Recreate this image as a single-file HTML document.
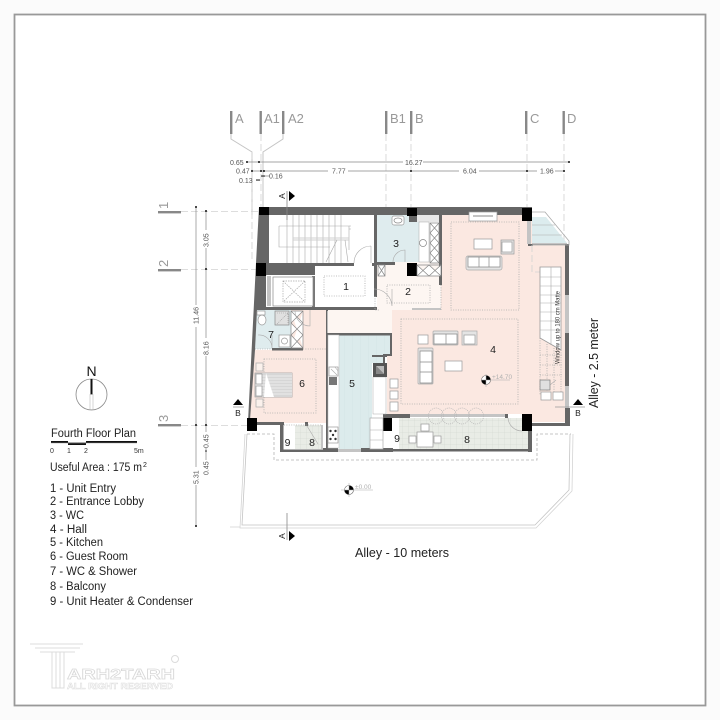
<!DOCTYPE html>
<html><head><meta charset="utf-8"><title>Fourth Floor Plan</title>
<style>
html,body{margin:0;padding:0;background:#fff}
svg{display:block}
text{font-family:"Liberation Sans",sans-serif}
.dim{font-size:7px;fill:#555}
.rm{font-size:10.5px;fill:#222;text-anchor:middle}
.ax{font-size:13px;fill:#999}
.lg{font-size:11.5px;fill:#222}
.f{fill:#fff;stroke:#999;stroke-width:.7}
.d{fill:none;stroke:#aaa;stroke-width:.8;stroke-dasharray:1 1.4}
.g{fill:none;stroke:#d2d2d2;stroke-width:.8;stroke-dasharray:7 3}
.s{fill:none;stroke:#aaa;stroke-width:.6}
.w{fill:#666}
.k{fill:#000}
.dl{stroke:#888;stroke-width:.7}
</style></head><body>
<svg xmlns="http://www.w3.org/2000/svg" width="720" height="720" viewBox="0 0 720 720">
<defs>
<pattern id="gb" width="6" height="6" patternUnits="userSpaceOnUse"><rect width="6" height="6" fill="#e9ece6"/><path d="M0 0V6M0 0H6" stroke="#cfd3cc" stroke-width=".5"/></pattern>
<pattern id="kb" width="8" height="8" patternUnits="userSpaceOnUse"><rect width="8" height="8" fill="#dcebec"/><path d="M0 0V8" stroke="#cfe0e2" stroke-width=".6"/></pattern>
</defs>
<rect width="720" height="720" fill="#fbfbfb"/>
<rect x="14.5" y="14.5" width="691" height="691" fill="#fff" stroke="#999" stroke-width="1.800"/>

<!-- grid lines -->
<g fill="none" stroke="#c4c4c4" stroke-width="1">
<path d="M231 134V139L252 152V215"/><path d="M283 134V139L263 152V207"/>
</g>
<path class="g" d="M261 134V207M386 134V208M411 134V208M527 134V208M564 134V244M181 211.500H260M181 269.500H258M181 425.500H248M252 152V262"/>
<g fill="#888">
<rect x="230" y="111" width="2.400" height="23"/><rect x="259.500" y="111" width="2.400" height="23"/><rect x="282" y="111" width="2.400" height="23"/><rect x="385" y="111" width="2.400" height="23"/><rect x="410" y="111" width="2.400" height="23"/><rect x="525" y="111" width="2.400" height="23"/><rect x="562.500" y="111" width="2.400" height="23"/>
<rect x="158" y="211" width="23" height="2.400"/><rect x="158" y="269" width="23" height="2.400"/><rect x="158" y="424" width="23" height="2.400"/>
</g>
<text class="ax" x="235" y="123">A</text><text class="ax" x="264" y="123">A1</text><text class="ax" x="288" y="123">A2</text><text class="ax" x="390" y="123">B1</text><text class="ax" x="415" y="123">B</text><text class="ax" x="530" y="123">C</text><text class="ax" x="567" y="123">D</text>
<text class="ax" transform="translate(168,209) rotate(-90)">1</text><text class="ax" transform="translate(168,267) rotate(-90)">2</text><text class="ax" transform="translate(168,422) rotate(-90)">3</text>

<!-- dimensions -->
<g class="dl"><path d="M246 162H569M252 171H564M262 176H270M256 180H260M196 207V526M206 211V470"/></g>
<g fill="#111"><circle cx="247" cy="162" r="1"/><circle cx="259" cy="162" r="1"/><circle cx="569" cy="162" r="1"/><circle cx="252" cy="171" r="1"/><circle cx="261" cy="171" r="1"/><circle cx="264" cy="171" r="1"/><circle cx="411" cy="171" r="1"/><circle cx="527" cy="171" r="1"/><circle cx="564" cy="171" r="1"/><circle cx="262" cy="176" r=".8"/><circle cx="264" cy="176" r=".8"/><circle cx="257" cy="180" r=".8"/><circle cx="259" cy="180" r=".8"/><circle cx="196" cy="207" r="1"/><circle cx="196" cy="425" r="1"/><circle cx="196" cy="526" r="1"/><circle cx="206" cy="211" r="1"/><circle cx="206" cy="269" r="1"/><circle cx="206" cy="425" r="1"/><circle cx="206" cy="451" r=".8"/><circle cx="206" cy="470" r=".8"/></g>
<g fill="#fff"><rect x="328" y="167" width="20" height="8"/><rect x="459" y="167" width="20" height="8"/><rect x="537" y="167" width="18" height="8"/><rect x="403" y="158" width="20" height="8"/><rect x="193" y="305" width="6" height="22"/><rect x="203" y="338" width="6" height="18"/><rect x="203" y="230" width="6" height="18"/><rect x="203" y="432" width="6" height="16"/><rect x="203" y="460" width="6" height="16"/><rect x="193" y="467" width="6" height="18"/></g>
<text class="dim" x="230" y="165">0.65</text><text class="dim" x="236" y="173.500">0.47</text><text class="dim" x="239" y="183">0.13</text><text class="dim" x="269" y="178.500">0.16</text><text class="dim" x="405" y="165">16.27</text><text class="dim" x="332" y="173.500">7.77</text><text class="dim" x="463" y="173.500">6.04</text><text class="dim" x="540" y="173.500">1.96</text>
<g class="dim"><text transform="translate(208.500,247) rotate(-90)">3.05</text><text transform="translate(198.500,324) rotate(-90)">11.46</text><text transform="translate(208.500,355) rotate(-90)">8.16</text><text transform="translate(208.500,448) rotate(-90)">0.45</text><text transform="translate(208.500,475) rotate(-90)">0.45</text><text transform="translate(198.500,484) rotate(-90)">5.31</text></g>

<!-- site -->
<path d="M570 434L569 490L535 525H242L247 434" fill="none" stroke="#c4c4c4" stroke-width=".8"/>
<path d="M573 434L572 491L536 528H240L245 434M230 527H240" fill="none" stroke="#d4d4d4" stroke-width=".8"/>
<path d="M247 434H274V460H537V434H571" fill="none" stroke="#b4b4b4" stroke-width=".8" stroke-dasharray="3 2"/>

<!-- floors -->
<polygon points="441,212 532,212 532,245 565,245 565,422 522,422 522,414 387,414 387,310 441,310" fill="#fbe8e1"/>
<polygon points="377,262 441,262 441,310 392,310 392,333 327,333 327,310 377,310" fill="#fdf6f2"/>
<polygon points="290,310 326,310 326,423 249,423 255,350 290,350" fill="#fbe8e1"/>
<polygon points="257,310 291,310 291,349 255,349" fill="#dfecee"/>
<rect x="377" y="212" width="42" height="50" fill="#dfecee"/>
<rect x="398" y="250" width="20" height="12" fill="#dfecee"/>
<polygon points="339,335 390,335 390,354 383,354 383,363 372,363 372,450 339,450" fill="url(#kb)"/>
<polygon points="532,217 546,217 567,243 532,243" fill="#dcecee"/>
<rect x="399" y="418" width="129" height="31" fill="url(#gb)"/>
<rect x="284" y="425" width="39" height="24" fill="url(#gb)"/>
<rect x="284" y="425" width="11" height="25" fill="#fff"/>
<rect x="392" y="418" width="7" height="31" fill="#fff"/>

<!-- walls -->
<g class="w">
<polygon points="259,207 269,207 269,263 266,276 266,307 257,310 255,350 250,420 248,422 256,263"/>
<rect x="259" y="207" width="273" height="8"/>
<rect x="266" y="263" width="49" height="12"/><rect x="315" y="263" width="39" height="3"/><rect x="372" y="263" width="5" height="3"/>
<rect x="374" y="212" width="3" height="85"/><rect x="254" y="307" width="123" height="3"/>
<rect x="326" y="310" width="2" height="140"/><rect x="326" y="333" width="66" height="2.500"/>
<rect x="272" y="348" width="31" height="2.500"/><rect x="439" y="222" width="3" height="63"/><rect x="439" y="212" width="3" height="10"/>
<rect x="377" y="262" width="18" height="3"/><rect x="257" y="422" width="27" height="3"/><rect x="280" y="423" width="3.500" height="29"/><rect x="280" y="449.500" width="48" height="2.500"/><rect x="323" y="448" width="15" height="4"/><rect x="361" y="448" width="32" height="4"/><rect x="393" y="449" width="139" height="2.500"/>
<rect x="528" y="431" width="4" height="21"/><rect x="392" y="414" width="18" height="4"/><rect x="532" y="423" width="38" height="3"/>
<rect x="565" y="244" width="4" height="51"/><rect x="565" y="333" width="4" height="53"/><rect x="565" y="408" width="5" height="18"/>
<rect x="409" y="215" width="8" height="7"/><rect x="528" y="244" width="5" height="2"/><rect x="505" y="414" width="3" height="4"/><rect x="305" y="422" width="3" height="4"/>
<rect x="372" y="355" width="15" height="2"/><rect x="383" y="354" width="9" height="2"/><rect x="390" y="335" width="2" height="20"/><rect x="383" y="354" width="2" height="10"/>
<rect x="383" y="414" width="9" height="4"/>
</g>
<g fill="#c4c4c4"><rect x="565" y="295" width="4" height="38"/><rect x="565" y="386" width="4" height="22"/><rect x="527" y="221" width="4" height="23"/><rect x="410" y="414" width="95" height="3"/><rect x="338" y="449" width="23" height="3"/><rect x="267" y="276" width="4" height="30"/><rect x="412" y="308" width="29" height="2"/><rect x="321" y="425" width="2" height="24"/></g>
<rect x="312" y="276" width="3" height="31" fill="#777"/>
<!-- columns -->
<g class="k"><rect x="259" y="207" width="10" height="8"/><rect x="407" y="208" width="10" height="8"/><rect x="522" y="208" width="10" height="13"/><rect x="256" y="263" width="10" height="13"/><rect x="407" y="263" width="10" height="13"/><rect x="247" y="418" width="10" height="13"/><rect x="383" y="418" width="9" height="13"/><rect x="522" y="414" width="10" height="17"/></g>

<!-- stairs -->
<g class="s">
<path d="M279 226H349V250M279 226V247H330M293 215V263M299 215V263M305 215V263M311 215V263M317 215V263M323 215V263M329 215V263M335 215V263M341 215V263M287 215V263"/>
<path d="M293 238H349M293 240H349" stroke="#d0d0d0" stroke-width="1"/><path d="M337 240L326 262M345 240L348 262"/>
<path d="M354 263A17 17 0 0 1 371 246M371 246V263"/>
<path d="M349 226H351M349 229H351"/>
</g>
<!-- elevator -->
<rect x="273" y="277" width="40" height="29" fill="#fff" stroke="#888" stroke-width=".7"/>
<path d="M283 281H305V302H283ZM283 281L305 302M305 281L283 302" fill="#fff" stroke="#aaa" stroke-width=".7" stroke-dasharray="1.500 1"/>
<rect x="324" y="276" width="41" height="20" class="d"/>
<path class="s" d="M374 289A18 18 0 0 1 392 306V289"/>
<path class="s" d="M393 262A12 12 0 0 1 405 250V262"/>
<rect x="387" y="285" width="43" height="18" class="d"/>
<path class="d" d="M375 296V310H380M441 285V310"/>

<!-- WC3 -->
<rect x="392" y="216" width="12" height="9" class="f" rx="2"/><ellipse cx="398" cy="220.500" rx="4" ry="2.500" fill="none" stroke="#888" stroke-width=".7"/>
<polygon points="417,215 439,215 439,222 417,222" fill="#e8e8e8"/>
<rect x="419" y="222" width="10" height="40" fill="#fff" stroke="#aaa" stroke-width=".5"/><circle cx="423" cy="243" r="3.500" fill="none" stroke="#888" stroke-width=".7"/>
<g fill="#fff" stroke="#888" stroke-width=".7">
<path d="M430 223H439V263H430ZM430 223L439 233L430 243L439 253L430 263M439 223L430 233L439 243L430 253L439 263"/>
<path d="M417 265H441V276H417ZM417 265L429 276L441 265M417 276L429 265L441 276"/>
<path d="M378 265H385V276H378ZM378 265L385 276M385 265L378 276"/>
<path d="M291 311H303V348H291ZM291 311L303 323L291 335L303 348M303 311L291 323L303 335L291 348"/>
</g>

<!-- hall upper -->
<rect x="451" y="222" width="68" height="88" class="d"/>
<rect x="469" y="212" width="28" height="9" class="f"/><path d="M473 216H493" stroke="#888"/>
<rect x="474" y="239" width="18" height="10" class="f"/>
<rect x="501" y="240" width="13" height="14" fill="#e4e4e4" stroke="#999" stroke-width=".7"/><rect x="502" y="242" width="10" height="10" class="f"/>
<rect x="466" y="256" width="36" height="14" fill="#e4e4e4" stroke="#aaa" stroke-width=".7" rx="2"/><path d="M468 257H500V267H468ZM479 257V267M489 257V267" fill="#fff" stroke="#888" stroke-width=".7"/>
<!-- east balcony -->
<path class="s" d="M532 225H555M532 235H562"/><path d="M532 212H545L569 241V245H532" fill="none" stroke="#aaa" stroke-width=".8"/><path d="M532 244H567" stroke="#888"/>
<path class="g" d="M532 245V272H540" stroke="#aaa"/>
<!-- east stair -->
<path d="M540 267H561V350L540 338Z" fill="#fff" stroke="#999" stroke-width=".8"/>
<path class="s" d="M551 267V345M540 277H561M540 286H561M540 295H561M540 303H561M540 312H561M540 321H561M540 330H561"/>
<path class="d" d="M540 338V395M547 344V395M554 348V395M540 355H562M540 365H562M540 375H562M561 350V395"/>
<text transform="translate(559.500,364) rotate(-90)" font-size="6.500" fill="#333" textLength="73" lengthAdjust="spacingAndGlyphs">Window up to 180 cm Matte</text>
<rect x="540" y="380" width="10" height="10" fill="#e0e0e0" stroke="#888" stroke-width=".8"/><rect x="541" y="392" width="10" height="8" class="f"/><rect x="553" y="392" width="10" height="8" class="f"/><path class="s" d="M550 385L556 380"/>
<!-- hall lower -->
<rect x="401" y="319" width="117" height="85" class="d"/>
<rect x="418" y="335" width="10" height="9" class="f"/>
<rect x="433" y="331" width="25" height="14" fill="#e4e4e4" stroke="#aaa" stroke-width=".7" rx="1"/><path d="M434 334H457V344H434ZM446 334V344" fill="#fff" stroke="#888" stroke-width=".7"/>
<rect x="462" y="331" width="15" height="14" fill="#e4e4e4" stroke="#aaa" stroke-width=".7"/><rect x="464" y="335" width="11" height="9" class="f"/>
<rect x="418" y="348" width="15" height="36" fill="#e4e4e4" stroke="#aaa" stroke-width=".7" rx="1"/><path d="M420 351H432V383H420ZM420 362H432V372H420Z" fill="#fff" stroke="#888" stroke-width=".7"/>
<rect x="445" y="361" width="17" height="10" class="f"/>
<rect x="390" y="379" width="8" height="9" class="f"/><rect x="390" y="391" width="8" height="8" class="f"/><rect x="390" y="402" width="8" height="9" class="f"/>
<g><circle cx="486" cy="380" r="4.500" fill="#fff" stroke="#666" stroke-width=".6"/><path d="M486 380V375.500A4.500 4.500 0 0 1 490.500 380ZM486 380V384.500A4.500 4.500 0 0 1 481.500 380Z" fill="#000"/><path d="M481 380H510M486 374V387" stroke="#aaa" stroke-width=".5"/><text x="492" y="379" font-size="6.500" fill="#b0b0b0">+14.70</text></g>
<!-- dining glass -->
<g fill="none" stroke="#b4b4b4" stroke-width=".7" stroke-dasharray="1 1"><ellipse cx="436" cy="416" rx="7.500" ry="8"/><ellipse cx="449" cy="416" rx="7.500" ry="8"/><ellipse cx="462" cy="416" rx="7.500" ry="8"/><ellipse cx="476" cy="416" rx="7.500" ry="8"/></g>
<path class="s" d="M508 418A14 14 0 0 0 522 431"/>
<rect x="417" y="432" width="16" height="15" class="f"/><rect x="421" y="424" width="8" height="7" class="f"/><rect x="409" y="436" width="7" height="7" class="f"/><rect x="434" y="436" width="7" height="7" class="f"/>

<!-- kitchen -->
<rect x="328" y="335" width="11" height="113" fill="#fff" stroke="#bbb" stroke-width=".5"/>
<rect x="329" y="367" width="9" height="9" class="f"/><path class="s" d="M331 369L337 375M335 367L338 371"/><rect x="329" y="377" width="8" height="8" fill="#777"/>
<rect x="328" y="427" width="10" height="16" class="f"/><g fill="#333"><circle cx="330.500" cy="431" r="1.200"/><circle cx="335.500" cy="431" r="1.200"/><circle cx="333" cy="435" r="1.200"/><circle cx="330.500" cy="439" r="1.200"/><circle cx="335.500" cy="439" r="1.200"/></g>
<rect x="373" y="377" width="13" height="37" fill="#fff" stroke="#aaa" stroke-width=".5"/>
<rect x="373" y="363" width="14" height="14" fill="#555"/><polygon points="376,366 384,366 384,374" fill="#bbb"/><polygon points="376,366 384,374 376,374" fill="#888"/>
<rect x="370" y="418" width="13" height="31" fill="#fff" stroke="#aaa" stroke-width=".7"/><path class="s" d="M370 430H383M370 440H383"/>
<!-- corridor -->
<path class="s" d="M310 310V326A15 15 0 0 1 295 311"/><rect x="327" y="311" width="1" height="22" fill="#bbb"/>
<!-- WC7 -->
<rect x="257" y="311" width="8" height="4" class="f"/><ellipse cx="262" cy="320" rx="4" ry="5" class="f"/>
<rect x="275" y="311" width="14" height="14" fill="#e0e0e0" stroke="#888" stroke-width=".7"/><path d="M277 324L288 313M277 313H288V324" fill="none" stroke="#999" stroke-width=".6" stroke-dasharray="1 1"/>
<rect x="279" y="335" width="11" height="12" class="f"/><circle cx="284.500" cy="341" r="3" class="f"/>
<path class="s" d="M258 335A13 13 0 0 1 272 348V335"/><path class="d" d="M255 349H272M303 349H326"/>
<!-- bedroom -->
<rect x="264" y="359" width="52" height="54" class="d"/>
<rect x="255" y="373" width="37" height="24" fill="#eee" stroke="#999" stroke-width=".7"/><rect x="262" y="373" width="30" height="24" fill="#d6d6d6"/><path d="M262 376H292M262 379H292M262 382H292M262 385H292M262 388H292M262 391H292M262 394H292" stroke="#f3f3f3" stroke-width=".8"/><polygon points="266,373 274,397 264,397" fill="#fff"/>
<rect x="256" y="374" width="6" height="10" class="f"/><rect x="256" y="386" width="6" height="10" class="f"/>
<rect x="256" y="363" width="7" height="8" fill="#fbf1ec" stroke="#aaa" stroke-width=".7"/><rect x="256" y="399" width="7" height="8" fill="#fbf1ec" stroke="#aaa" stroke-width=".7"/>
<path class="d" d="M284 425H322"/>
<path class="s" d="M307 426L318 444"/>

<!-- room labels -->
<text class="rm" x="346" y="290">1</text><text class="rm" x="408" y="295">2</text><text class="rm" x="396" y="247">3</text><text class="rm" x="493" y="353">4</text><text class="rm" x="352" y="387">5</text><text class="rm" x="302" y="387">6</text><text class="rm" x="271" y="338">7</text><text class="rm" x="312" y="446">8</text><text class="rm" x="287.500" y="446">9</text><text class="rm" x="397" y="442">9</text><text class="rm" x="467" y="443">8</text>

<!-- sections -->
<g fill="#000"><polygon points="289,191 295,196 289,201"/><polygon points="289,531 295,536 289,541"/><polygon points="233,405 238,399 243,405"/><polygon points="573,405 578,399 583,405"/></g>
<path d="M287 191V220M287 513V540" stroke="#888" stroke-width=".8"/>
<path d="M233 407H244M555 407H585" stroke="#999" stroke-width=".8"/>
<g font-size="8.500" fill="#222"><text transform="translate(285,196) rotate(-90)" text-anchor="middle">A</text><text transform="translate(285,536) rotate(-90)" text-anchor="middle">A</text><text x="238" y="416" text-anchor="middle">B</text><text x="578" y="416" text-anchor="middle">B</text></g>
<g><circle cx="349" cy="490" r="4.500" fill="#fff" stroke="#666" stroke-width=".6"/><path d="M349 490V485.500A4.500 4.500 0 0 1 353.500 490ZM349 490V494.500A4.500 4.500 0 0 1 344.500 490Z" fill="#000"/><path d="M341 490H373M349 483V497" stroke="#aaa" stroke-width=".5"/><text x="355" y="489" font-size="6.500" fill="#b0b0b0">±0.00</text></g>

<text x="355" y="557" font-size="12.500" fill="#222" textLength="94" lengthAdjust="spacingAndGlyphs">Alley - 10 meters</text>
<text transform="translate(598,408) rotate(-90)" font-size="12.500" fill="#222" textLength="90" lengthAdjust="spacingAndGlyphs">Alley - 2.5 meter</text>

<!-- north -->
<circle cx="91.500" cy="394.500" r="15.500" fill="#fff" stroke="#888" stroke-width=".8"/>
<rect x="90.500" y="379" width="2" height="15.500" fill="#111"/><rect x="90" y="394.500" width="3" height="15" fill="#fff" stroke="#bbb" stroke-width=".6"/>
<text x="91.500" y="376" font-size="14" text-anchor="middle" fill="#111">N</text>

<!-- legend -->
<text class="lg" x="51" y="437" textLength="85" lengthAdjust="spacingAndGlyphs">Fourth Floor Plan</text>
<g fill="#111"><rect x="51" y="441" width="17" height="2"/><rect x="68" y="442.500" width="18" height="2.500"/><rect x="86" y="441" width="51" height="2"/></g>
<path d="M51 443H137" stroke="#999" stroke-width=".5"/>
<g font-size="7" fill="#333"><text x="50" y="453">0</text><text x="67" y="453">1</text><text x="84" y="453">2</text><text x="134" y="453">5m</text></g>
<text class="lg" x="50" y="471" textLength="92" lengthAdjust="spacingAndGlyphs">Useful Area : 175 m</text><text x="143" y="467" font-size="7" fill="#222">2</text>
<text class="lg" x="50" y="492" textLength="66" lengthAdjust="spacingAndGlyphs">1 - Unit Entry</text>
<text class="lg" x="50" y="505" textLength="94" lengthAdjust="spacingAndGlyphs">2 - Entrance Lobby</text>
<text class="lg" x="50" y="519" textLength="34" lengthAdjust="spacingAndGlyphs">3 - WC</text>
<text class="lg" x="50" y="533" textLength="37" lengthAdjust="spacingAndGlyphs">4 - Hall</text>
<text class="lg" x="50" y="546" textLength="53" lengthAdjust="spacingAndGlyphs">5 - Kitchen</text>
<text class="lg" x="50" y="560" textLength="78" lengthAdjust="spacingAndGlyphs">6 - Guest Room</text>
<text class="lg" x="50" y="575" textLength="87" lengthAdjust="spacingAndGlyphs">7 - WC &amp; Shower</text>
<text class="lg" x="50" y="590" textLength="56" lengthAdjust="spacingAndGlyphs">8 - Balcony</text>
<text class="lg" x="50" y="605" textLength="143" lengthAdjust="spacingAndGlyphs">9 - Unit Heater &amp; Condenser</text>

<!-- logo -->
<g fill="none" stroke="#dcdcdc" stroke-width="1">
<path d="M30 644H83M35 648H80M40 652H75M52 652V688H64V652M56 652V688M60 652V688"/>
<circle cx="175" cy="659" r="3.500"/>
</g>
<text x="67" y="679" font-size="15" font-weight="bold" fill="#fff" stroke="#d8d8d8" stroke-width=".7" textLength="108" lengthAdjust="spacingAndGlyphs">ARH2TARH</text>
<text x="67" y="689" font-size="8.500" font-weight="bold" fill="#fff" stroke="#dcdcdc" stroke-width=".5" textLength="106" lengthAdjust="spacingAndGlyphs">ALL RIGHT RESERVED</text>
</svg>
</body></html>
